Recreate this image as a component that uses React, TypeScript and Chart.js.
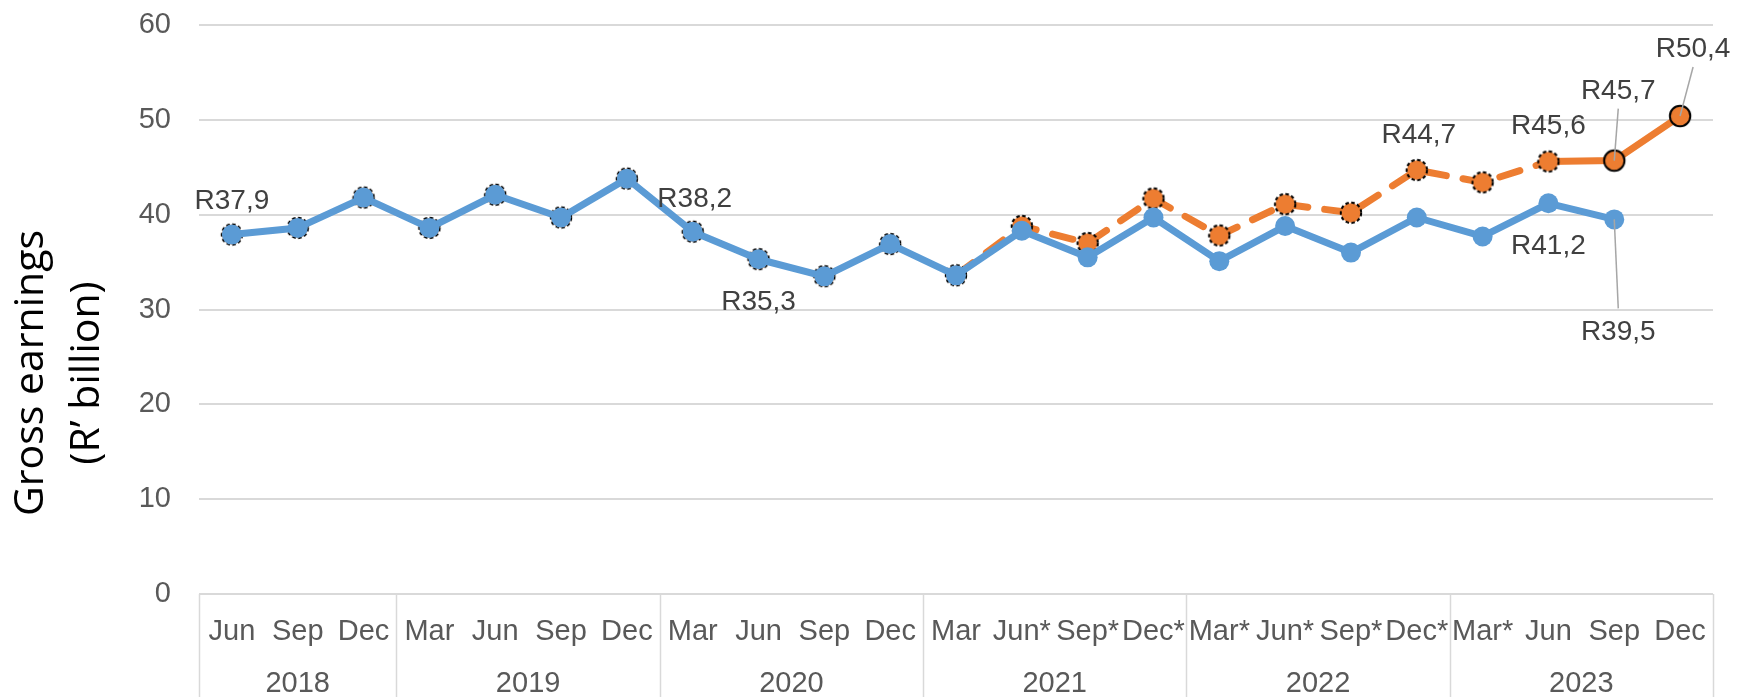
import React, { useEffect, useRef } from 'react';
import { Chart, registerables } from 'chart.js';

Chart.register(...registerables);

// ---------- data ----------
const months = ['Jun', 'Sep', 'Dec', 'Mar', 'Jun', 'Sep', 'Dec', 'Mar', 'Jun', 'Sep', 'Dec', 'Mar', 'Jun*', 'Sep*', 'Dec*', 'Mar*', 'Jun*', 'Sep*', 'Dec*', 'Mar*', 'Jun', 'Sep', 'Dec'];
const monthYears = ['2018', '2018', '2018', '2019', '2019', '2019', '2019', '2020', '2020', '2020', '2020', '2021', '2021', '2021', '2021', '2022', '2022', '2022', '2022', '2023', '2023', '2023', '2023'];
const seriesBlue: (number | null)[] = [37.9, 38.6, 41.8, 38.6, 42.1, 39.7, 43.8, 38.2, 35.3, 33.5, 36.9, 33.6, 38.3, 35.5, 39.7, 35.1, 38.8, 36.0, 39.7, 37.7, 41.2, 39.5, null];
const seriesOrange: (number | null)[] = [37.9, 38.6, 41.8, 38.6, 42.1, 39.7, 43.8, 38.2, 35.3, 33.5, 36.9, 33.6, 38.8, 37.0, 41.7, 37.8, 41.1, 40.2, 44.7, 43.4, 45.6, 45.7, 50.4];
const yTicks = [0, 10, 20, 30, 40, 50, 60];
const yTitleLines = ['Gross earnings', '(R\u2019 billion)'];

// label placement (style): which point, and offset of label centre from point
const labelPlacement = [
  { series: 0, index: 0, dx: 0, dy: -36, leader: false },
  { series: 0, index: 7, dx: 2, dy: -35, leader: false },
  { series: 0, index: 8, dx: 0, dy: 41, leader: false },
  { series: 1, index: 18, dx: 2, dy: -37, leader: false },
  { series: 1, index: 20, dx: 0, dy: -38, leader: false },
  { series: 1, index: 21, dx: 4, dy: -72, leader: true },
  { series: 1, index: 22, dx: 13, dy: -69, leader: true },
  { series: 0, index: 20, dx: 0, dy: 41, leader: false },
  { series: 0, index: 21, dx: 4, dy: 111, leader: true },
];

// ---------- style ----------
const BLUE = '#5B9BD5';
const ORANGE = '#ED7D31';
const GRID = '#d9d9d9';
const TICK_COLOR = '#595959';
const LABEL_COLOR = '#404040';
const TICK_FONT = '"Liberation Sans", Arial, sans-serif';
const HIDDEN_UNTIL = 11; // orange coincides with blue up to this index
const DASHED_UNTIL = 20; // orange dashed segments start before this index
const SOLID_MARKER_FROM = 21;

function fmt(v: number) {
  return 'R' + v.toFixed(1).replace('.', ',');
}

function makeMarker(dashed: boolean) {
  const c = document.createElement('canvas');
  c.width = 26;
  c.height = 26;
  const g = c.getContext('2d')!;
  g.beginPath();
  g.arc(13, 13, 9.8, 0, Math.PI * 2);
  g.fillStyle = ORANGE;
  g.fill();
  g.lineWidth = 2;
  g.strokeStyle = '#000';
  if (dashed) g.setLineDash([3.5, 2.5]);
  g.beginPath();
  g.arc(13, 13, 10.2, 0, Math.PI * 2);
  g.stroke();
  return c;
}

const overlayPlugin = {
  id: 'overlay',
  afterDatasetsDraw(chart: any) {
    const ctx = chart.ctx as CanvasRenderingContext2D;
    ctx.save();
    ctx.font = `28px ${TICK_FONT}`;
    ctx.textAlign = 'center';
    ctx.textBaseline = 'alphabetic';
    for (const p of labelPlacement) {
      const meta = chart.getDatasetMeta(p.series);
      const el = meta.data[p.index];
      const v = chart.data.datasets[p.series].data[p.index];
      if (!el || v == null) continue;
      const cx = el.x + p.dx;
      const cy = el.y + p.dy;
      if (p.leader) {
        ctx.strokeStyle = '#a6a6a6';
        ctx.lineWidth = 1.5;
        ctx.beginPath();
        const ly = p.dy < 0 ? cy + 20 : cy - 22;
        ctx.moveTo(cx, ly);
        ctx.lineTo(el.x, el.y);
        ctx.stroke();
      }
      ctx.fillStyle = LABEL_COLOR;
      ctx.fillText(fmt(v as number), cx, cy + 10);
    }
    ctx.restore();
  },
  afterDraw(chart: any) {
    const ctx = chart.ctx as CanvasRenderingContext2D;
    const xs = chart.scales.x;
    const area = chart.chartArea;
    const H = chart.height;
    ctx.save();
    // separators
    const bounds: number[] = [area.left];
    const groups: { year: string; start: number }[] = [{ year: monthYears[0], start: area.left }];
    for (let i = 1; i < monthYears.length; i++) {
      if (monthYears[i] !== monthYears[i - 1]) {
        const b = (xs.getPixelForValue(i - 1) + xs.getPixelForValue(i)) / 2;
        bounds.push(b);
        groups.push({ year: monthYears[i], start: b });
      }
    }
    bounds.push(area.right);
    ctx.strokeStyle = GRID;
    ctx.lineWidth = 1.5;
    for (const b of bounds) {
      ctx.beginPath();
      ctx.moveTo(Math.round(b) + 0.5, area.bottom);
      ctx.lineTo(Math.round(b) + 0.5, H);
      ctx.stroke();
    }
    // month labels
    ctx.fillStyle = TICK_COLOR;
    ctx.font = `29px ${TICK_FONT}`;
    ctx.textAlign = 'center';
    ctx.textBaseline = 'alphabetic';
    months.forEach((m, i) => {
      ctx.fillText(m, xs.getPixelForValue(i), area.bottom + 46);
    });
    // year labels
    groups.forEach((g, k) => {
      const end = bounds[k + 1];
      ctx.fillText(g.year, (g.start + end) / 2, area.bottom + 98);
    });
    // y title
    ctx.fillStyle = '#000';
    ctx.font = '41px "Open Sans", "Noto Sans", sans-serif';
    ctx.textBaseline = 'middle';
    const titleX = [31, 87];
    yTitleLines.forEach((t, k) => {
      ctx.save();
      ctx.translate(titleX[k], 373);
      ctx.rotate(-Math.PI / 2);
      ctx.fillText(t, 0, 0);
      ctx.restore();
    });
    ctx.restore();
  },
};

export default function App() {
  const ref = useRef<HTMLCanvasElement | null>(null);
  useEffect(() => {
    if (!ref.current) return;
    const dashedImg = makeMarker(true);
    const solidImg = makeMarker(false);
    const chart = new Chart(ref.current, {
      type: 'line',
      data: {
        labels: months,
        datasets: [
          {
            label: 'Blue',
            data: seriesBlue,
            borderColor: BLUE,
            borderWidth: 7,
            borderJoinStyle: 'round',
            pointRadius: 10,
            pointBackgroundColor: BLUE,
            pointBorderColor: BLUE,
            pointBorderWidth: 0,
            tension: 0,
          },
          {
            label: 'Orange',
            data: seriesOrange,
            borderColor: ORANGE,
            borderWidth: 7,
            borderCapStyle: 'round',
            borderJoinStyle: 'round',
            borderDash: [],
            pointRadius: 10,
            pointStyle: (c: any) => (c.dataIndex >= SOLID_MARKER_FROM ? solidImg : dashedImg),
            tension: 0,
            segment: {
              borderColor: (c: any) => (c.p1DataIndex <= HIDDEN_UNTIL ? 'rgba(0,0,0,0)' : ORANGE),
              borderDash: (c: any) => (c.p0DataIndex < DASHED_UNTIL ? [21, 17] : []),
            },
          } as any,
        ],
      },
      options: {
        animation: false,
        responsive: false,
        events: [],
        layout: { padding: { top: 25, right: 26, left: 0, bottom: 0 } },
        plugins: { legend: { display: false }, tooltip: { enabled: false } },
        scales: {
          x: {
            type: 'category',
            offset: true,
            grid: { display: false },
            border: { display: false },
            ticks: { display: false },
            afterFit: (s: any) => {
              s.height = 103;
              s.paddingLeft = 0;
              s.paddingRight = 0;
            },
          },
          y: {
            min: 0,
            max: 60,
            afterBuildTicks: (s: any) => {
              s.ticks = yTicks.map((v) => ({ value: v }));
            },
            grid: { color: GRID, lineWidth: 2, drawTicks: false },
            border: { display: false },
            ticks: {
              padding: 28,
              color: TICK_COLOR,
              font: { family: TICK_FONT, size: 29 },
            },
            afterFit: (s: any) => {
              s.width = 199;
              s.paddingTop = 0;
              s.paddingBottom = 0;
            },
          },
        },
      },
      plugins: [overlayPlugin],
    });
    return () => chart.destroy();
  }, []);
  return (
    <div style={{ position: 'absolute', left: 0, top: 0, width: 1739, height: 697, background: '#fff' }}>
      <canvas ref={ref} width={1739} height={697} />
    </div>
  );
}
